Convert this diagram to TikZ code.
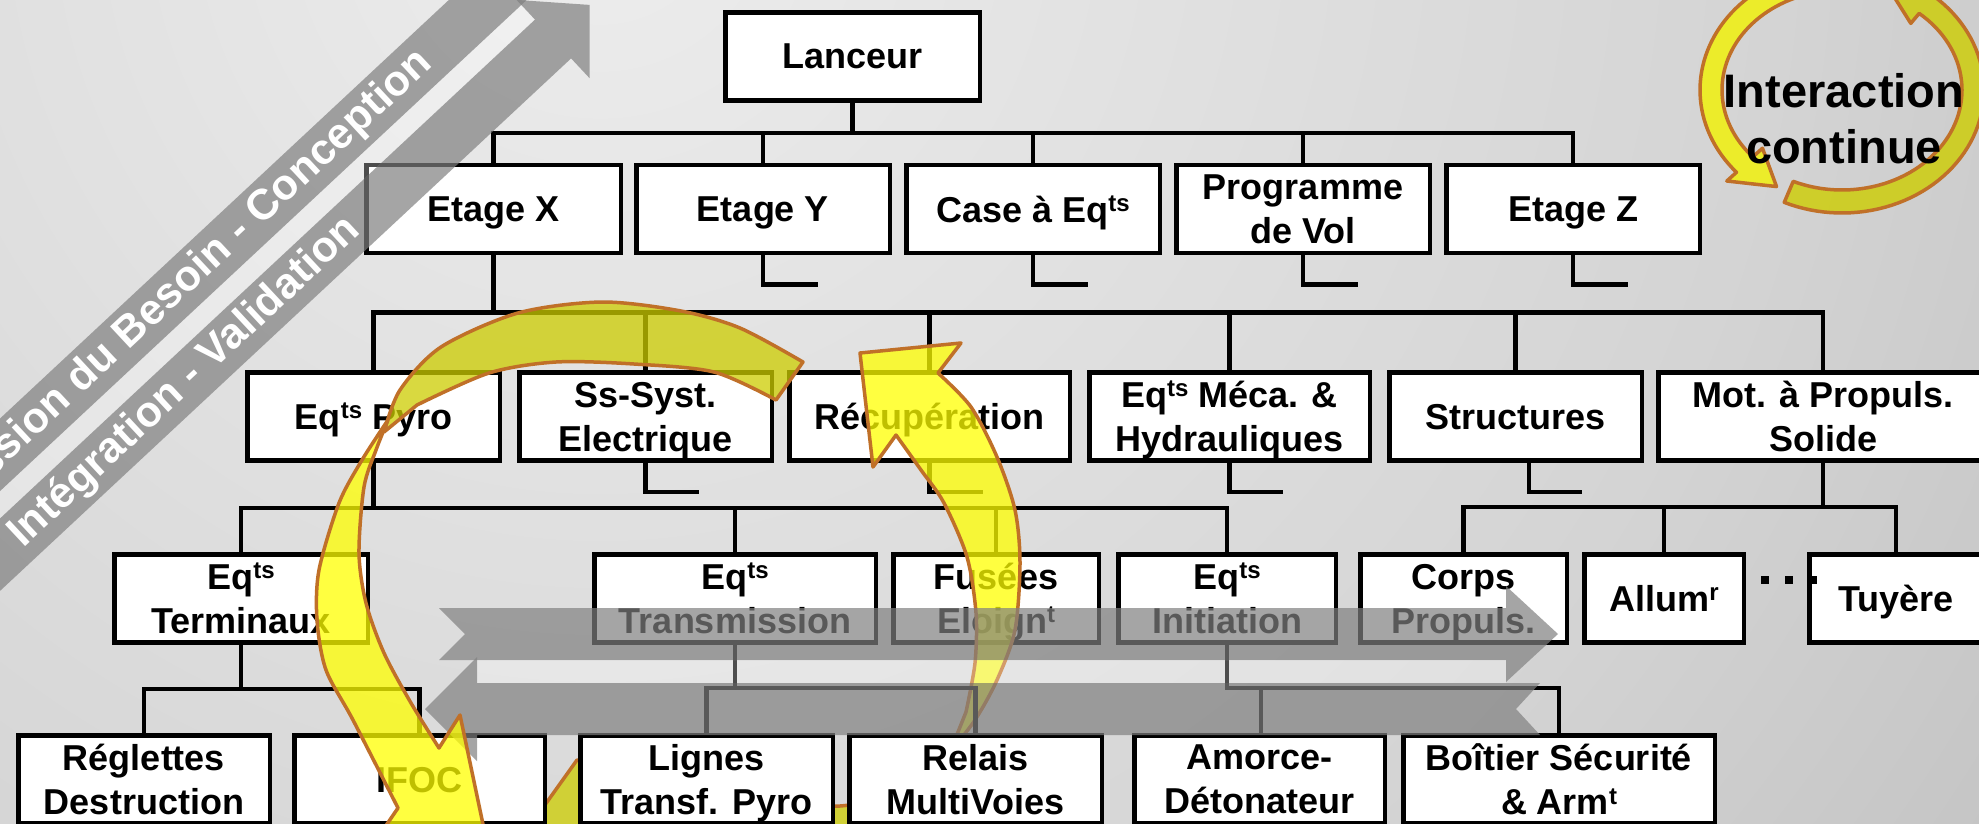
\documentclass[tikz,border=0pt]{standalone}
\usepackage{fontspec}
\setmainfont{Liberation Sans}
\usetikzlibrary{calc}
\definecolor{bg0}{gray}{0.93}
\definecolor{bg1}{gray}{0.83}
\definecolor{bg2}{gray}{0.72}
\definecolor{bg3}{gray}{0.65}
\definecolor{bg4}{gray}{0.585}
\definecolor{ylw}{RGB}{255,255,0}
\definecolor{olv}{RGB}{205,205,0}
\definecolor{brd}{RGB}{192,112,40}
\definecolor{bandc}{RGB}{128,128,128}
\pgfdeclareradialshading{bgshade}{\pgfpoint{0bp}{0bp}}{color(0bp)=(bg0); color(17.6bp)=(bg1); color(30.9bp)=(bg2); color(43.2bp)=(bg3); color(50bp)=(bg4)}
\newcommand\sups[1]{\raisebox{0.3em}{\fontsize{24}{24}\selectfont #1}}
\newcommand\boxfont{\bfseries\fontsize{36}{44}\selectfont}
\tikzset{
  tbox/.style={draw=black, line width=4.5pt, fill=white, inner sep=0pt, align=center, font=\boxfont, text depth=0pt, minimum height=88pt},
  wire/.style={draw=black, line width=4.5pt},
  gband/.style={fill=bandc, fill opacity=0.7},
  lband/.style={fill=white, fill opacity=0.3},
  bandtext/.style={text=white, font=\bfseries\fontsize{43}{43}\selectfont, rotate=43},
  frontarrow/.style={fill=ylw, fill opacity=0.75, draw=brd, line width=3.5pt, line join=round},
  backarrow/.style={fill=olv, fill opacity=0.75, draw=brd, line width=3.5pt, line join=round},
  cyclearrow/.style={fill=ylw!95!black, fill opacity=0.8, draw=brd, line width=3.5pt, line join=round},
  cyclearrowb/.style={fill=olv, fill opacity=0.8, draw=brd, line width=3.5pt, line join=round},
}
\begin{document}
\begin{tikzpicture}[x=1pt,y=-1pt]
\useasboundingbox (0,0) rectangle (1979,823);
\clip (0,0) rectangle (1979,823);
\shade[shading=bgshade] (600,-100) circle (1700);

% levels 0-3
\node[tbox, minimum width=254.5pt] (L) at (852.5,56.5) {Lanceur};
\node[tbox, minimum width=254.5pt] (EX) at (493.5,209) {Etage X};
\node[tbox, minimum width=253.5pt] (EY) at (763,209) {Etage Y};
\node[tbox, minimum width=253.5pt] (CE) at (1033,209) {Case à Eq\sups{ts}};
\node[tbox, minimum width=253.5pt] (PV) at (1303,209) {Programme\\de Vol};
\node[tbox, minimum width=253.5pt] (EZ) at (1573,209) {Etage Z};
\node[tbox, minimum width=252.5pt] (PY) at (373.5,416.5) {Eq\sups{ts} Pyro};
\node[tbox, minimum width=252.5pt] (SS) at (645.5,416.5) {Ss-Syst.\\Electrique};
\node[tbox, minimum width=280.5pt] (RC) at (929.5,416.5) {Récupération};
\node[tbox, minimum width=280.5pt] (MH) at (1229.5,416.5) {Eq\sups{ts} Méca. \&\\Hydrauliques};
\node[tbox, minimum width=252.5pt] (ST) at (1515.5,416.5) {Structures};
\node[tbox, minimum width=329.5pt] (MP) at (1823,416.5) {Mot. à Propuls.\\Solide};
\node[tbox, minimum width=253.5pt] (ET) at (241,598.5) {Eq\sups{ts}\\Terminaux};
\node[tbox, minimum width=281.5pt] (TR) at (735,598.5) {Eq\sups{ts}\\Transmission};
\node[tbox, minimum width=205.5pt] (FE) at (996,598.5) {Fusées\\Eloign\sups{t}};
\node[tbox, minimum width=217.5pt] (EI) at (1227,598.5) {Eq\sups{ts}\\Initiation};
\node[tbox, minimum width=206.5pt] (CP) at (1463.5,598.5) {Corps\\Propuls.};
\node[tbox, minimum width=159.5pt] (AL) at (1664,598.5) {Allum\sups{r}};
\node[tbox, minimum width=173.5pt] (TU) at (1896,598.5) {Tuyère};

\foreach \c in {EX,EY,CE,PV,EZ} \draw[wire] (L.south) -- ++(0,30) -| (\c.north);
\foreach \c in {PY,SS,RC,MH,ST,MP} \draw[wire] (EX.south) -- ++(0,57) -| (\c.north);
\foreach \c in {ET,TR,FE,EI} \draw[wire] (PY.south) -- ++(0,45) -| (\c.north);
\foreach \c in {CP,AL,TU} \draw[wire] (MP.south) -- ++(0,44) -| (\c.north);
\foreach \c in {EY,CE,PV,EZ} \draw[wire] (\c.south) -- ++(0,29) -- ++(55,0);
\foreach \c in {SS,RC,MH} \draw[wire] (\c.south) -- ++(0,29) -- ++(53,0);
\draw[wire] ([xshift=13.5pt]ST.south) -- ++(0,29) -- ++(53,0);

% yellow arrow B (rising)
\filldraw[backarrow] (532,823) -- plot[smooth] coordinates {(577,760) (650,775) (740,795) (840,806) (910,785) (950,752)} -- plot[smooth] coordinates {(985,820) (940,880) (800,900) (640,880) (545,845)} -- cycle;
\filldraw[frontarrow] (860,353) -- (961,343) -- plot[smooth] coordinates {(938,373) (971,407) (997,457) (1015,510) (1020,563) (1015,630) (997,680) (975,720) (950,752)} -- plot[smooth] coordinates {(966,712) (975,663) (976,613) (967,557) (944,503) (921,470) (896,435)} -- (873,467) -- cycle;

% level 4
\node[tbox, minimum width=251.5pt] (RD) at (144,779.5) {Réglettes\\Destruction};
\node[tbox, minimum width=250.5pt] (IF) at (419.5,779.5) {IFOC};
\node[tbox, minimum width=252.5pt] (LT) at (706.5,779.5) {Lignes\\Transf. Pyro};
\node[tbox, minimum width=252.5pt] (RM) at (975.5,779.5) {Relais\\MultiVoies};
\node[tbox, minimum width=250.5pt] (AD) at (1259.5,779.5) {Amorce-\\Détonateur};
\node[tbox, minimum width=311.5pt] (BS) at (1559,779.5) {Boîtier Sécurité\\\& Arm\sups{t}};
\foreach \c in {RD,IF} \draw[wire] (ET.south) -- ++(0,44) -| (\c.north);
\foreach \c in {LT,RM} \draw[wire] (TR.south) -- ++(0,43) -| (\c.north);
\draw[wire] (EI.south) -- ++(0,43) -| ([xshift=1.5pt]AD.north);
\draw[wire] (EI.south) -- ++(0,43) -| (BS.north);

% horizontal grey double arrow
\fill[gband] (439,608) -- (1506,608) -- (1506,586) -- (1558,634) -- (1506,682) -- (1506,660) -- (439,660) -- (465,634) -- cycle;
\fill[lband] (477,660) rectangle (1506,683);
\fill[gband] (1540,683) -- (477,683) -- (477,657) -- (425,709) -- (477,761) -- (477,735) -- (1540,735) -- (1516,709) -- cycle;

% diagonal grey arrows
\fill[gband] (-196.5,701.6) -- (534.9,19.6) -- (516.5,-0.1) -- (589.6,4.9) -- (589.5,78.1) -- (571.1,58.4) -- (-160.3,740.4) -- cycle;
\fill[lband] (534.9,19.6) -- (521.3,5.0) -- (-210.1,687) -- (-196.5,701.6) -- cycle;
\fill[gband] (558.2,-102) -- (594.4,-63.2) -- (-210.1,687) -- (-246.3,648.2) -- cycle;
\node[bandtext] (T1) at (161,304.7) {Expression du Besoin - Conception};
\node[bandtext] (T2) at (185,382) {Intégration - Validation};

% yellow arrow A (descending)
\filldraw[backarrow] plot[smooth] coordinates {(803,362) (740,328) (681,311) (602,302) (518,313) (441,347) (400,390) (384,432)} -- plot[smooth] coordinates {(417,405) (489,373) (556,362) (634,364) (714,372) (776,400)} -- cycle;
\filldraw[frontarrow] plot[smooth] coordinates {(388,420) (362,460) (339,503) (319,570) (317,620) (326,670) (353,720) (398,808)} -- (372,846) -- (500,905) -- (460,715) -- plot[smooth] coordinates {(439,748) (411,703) (384,653) (366,603) (359,553) (364,487) (376,450) (388,420)} -- cycle;

% dots
\foreach \x in {1765,1789,1813} \fill (\x-4,576) rectangle (\x+4,584);

% interaction cycle
\filldraw[cyclearrow] plot[domain=262:138, samples=50] ({1842+142*cos(\x)},{90+123*sin(\x)}) -- ({1842+155*cos(138)},{90+136*sin(138)}) -- ({1842+131*cos(120)},{90+111.5*sin(120)}) -- ({1842+107*cos(138)},{90+87*sin(138)}) -- plot[domain=138:262, samples=50] ({1842+120*cos(\x)},{90+100*sin(\x)}) -- cycle;
\filldraw[cyclearrowb] plot[domain=114:-50, samples=60] ({1842+142*cos(\x)},{90+123*sin(\x)}) -- ({1842+155*cos(-50)},{90+136*sin(-50)}) -- ({1842+131*cos(-70)},{90+111.5*sin(-70)}) -- ({1842+107*cos(-50)},{90+87*sin(-50)}) -- plot[domain=-50:114, samples=60] ({1842+120*cos(\x)},{90+100*sin(\x)}) -- cycle;
\node[font=\bfseries\fontsize{47}{56}\selectfont, align=center, text depth=0pt] (IC) at (1844,118) {Interaction\\continue};
\end{tikzpicture}
\end{document}
